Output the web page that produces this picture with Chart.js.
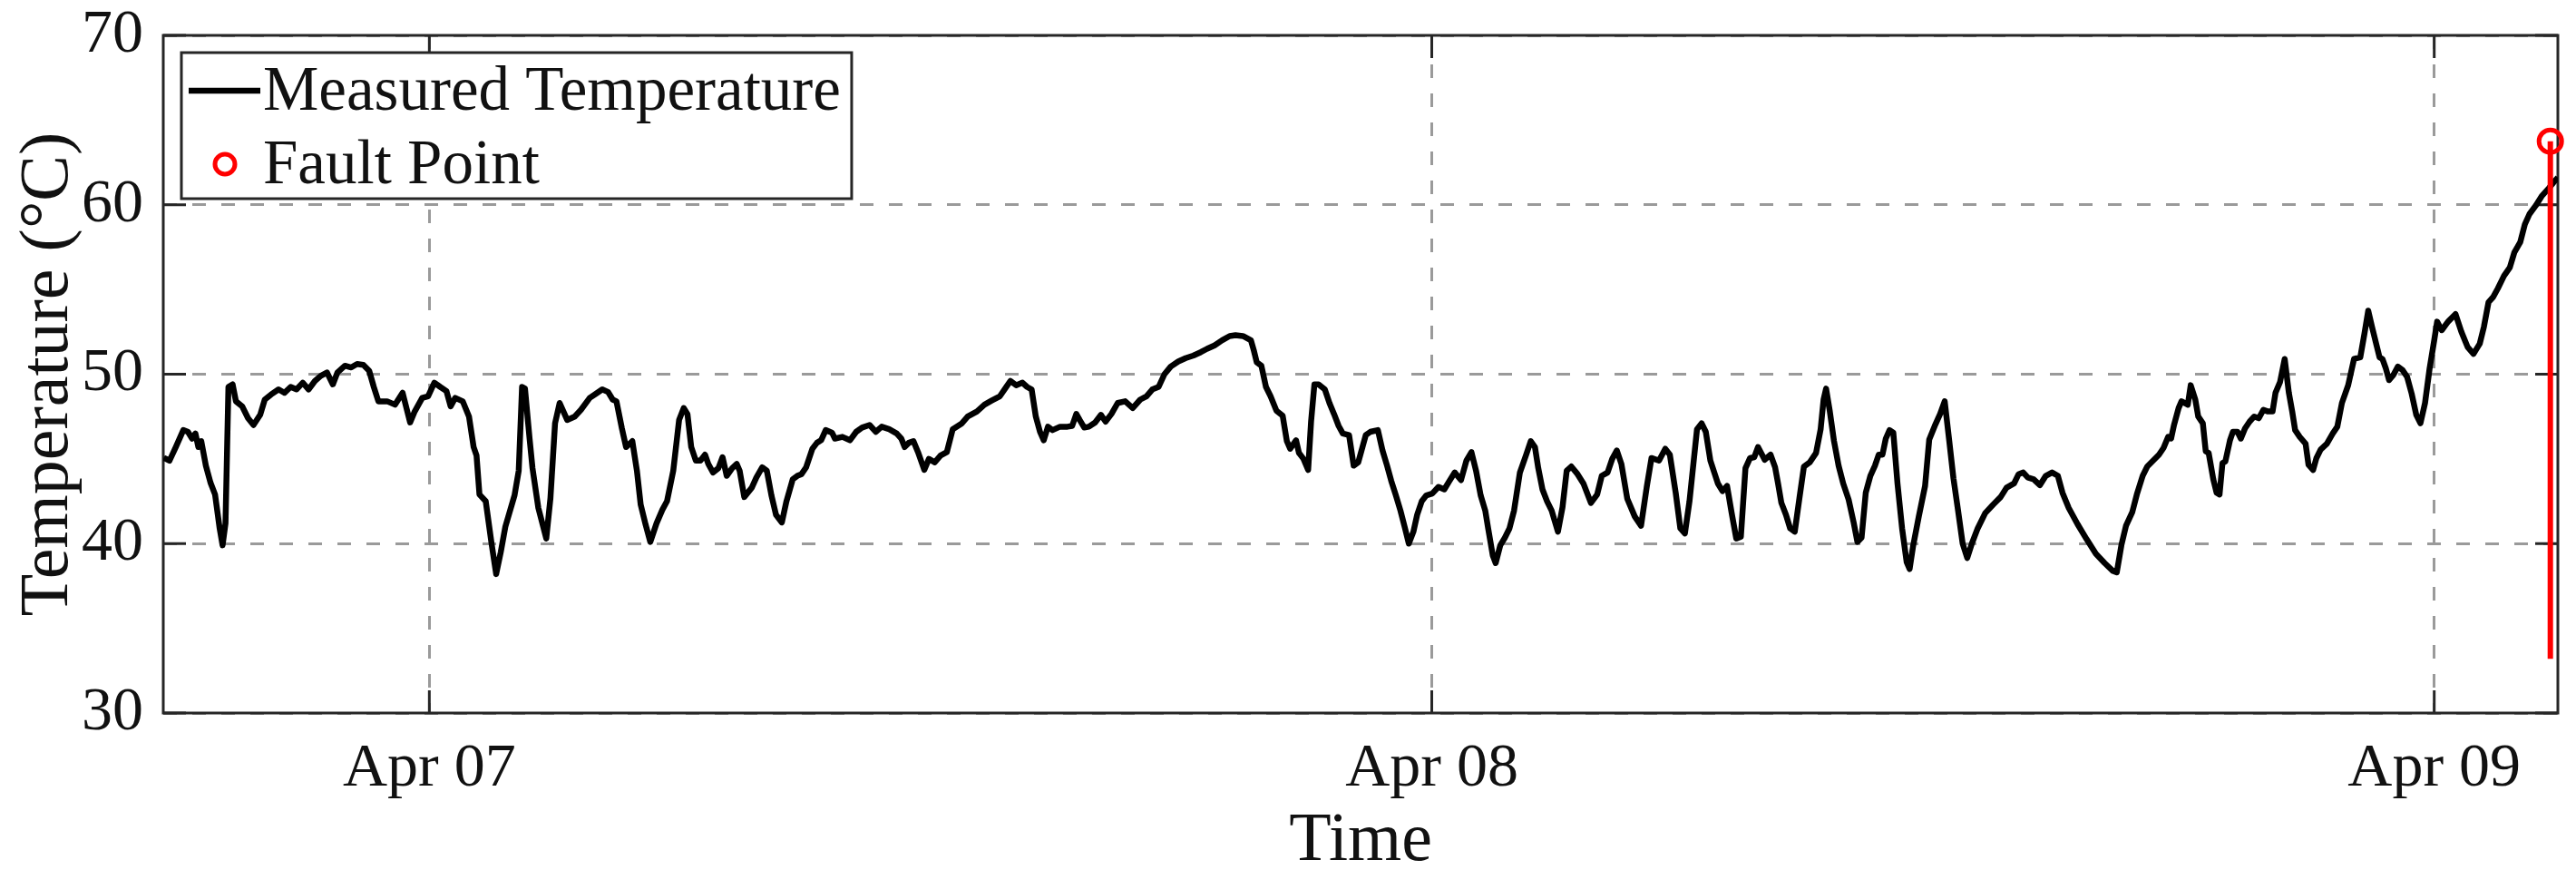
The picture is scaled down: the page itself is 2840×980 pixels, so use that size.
<!DOCTYPE html>
<html>
<head>
<meta charset="utf-8">
<title>Measured Temperature</title>
<script src="https://cdn.jsdelivr.net/npm/chart.js@4.4.1/dist/chart.umd.min.js"></script>
<style>
	body { margin: 0; background: #fff; }
	canvas { display: block; }
</style>
</head>
<body>
<canvas id="temp-chart" width="2840" height="980"></canvas>
<script>
// hours counted from Apr 06 00:00
var hours = [17.64, 17.78, 17.93, 18.11, 18.22, 18.32, 18.40, 18.47, 18.54, 18.65, 18.76, 18.87, 18.98, 19.05, 19.12, 19.19, 19.29, 19.37, 19.52, 19.66,
	19.79, 19.95, 20.06, 20.21, 20.39, 20.53, 20.68, 20.82, 20.97, 21.11, 21.26, 21.40, 21.55, 21.69, 21.80, 21.98, 22.13, 22.27, 22.42, 22.56,
	22.67, 22.78, 22.99, 23.18, 23.36, 23.54, 23.65, 23.83, 23.97, 24.12, 24.26, 24.41, 24.51, 24.62, 24.80, 24.95, 25.06, 25.13, 25.20, 25.35,
	25.49, 25.60, 25.71, 25.82, 26.04, 26.14, 26.22, 26.29, 26.40, 26.47, 26.61, 26.80, 26.90, 27.01, 27.12, 27.30, 27.48, 27.63, 27.84, 27.99,
	28.14, 28.28, 28.39, 28.48, 28.61, 28.71, 28.86, 28.97, 29.06, 29.18, 29.29, 29.44, 29.58, 29.69, 29.84, 29.98, 30.09, 30.18, 30.27, 30.38,
	30.49, 30.60, 30.68, 30.79, 30.92, 31.02, 31.12, 31.25, 31.36, 31.43, 31.54, 31.72, 31.83, 31.97, 32.08, 32.19, 32.30, 32.44, 32.55, 32.70,
	32.81, 32.91, 33.02, 33.17, 33.28, 33.38, 33.49, 33.64, 33.71, 33.89, 34.07, 34.22, 34.36, 34.54, 34.69, 34.83, 35.01, 35.19, 35.30, 35.38,
	35.48, 35.59, 35.70, 35.85, 35.96, 36.10, 36.24, 36.39, 36.53, 36.75, 36.89, 37.11, 37.29, 37.47, 37.66, 37.80, 37.91, 38.05, 38.20, 38.31,
	38.42, 38.52, 38.62, 38.71, 38.81, 38.92, 39.10, 39.28, 39.39, 39.49, 39.57, 39.68, 39.79, 39.94, 40.08, 40.19, 40.33, 40.48, 40.66, 40.84,
	41.02, 41.17, 41.31, 41.46, 41.60, 41.75, 41.93, 42.11, 42.29, 42.47, 42.62, 42.80, 42.98, 43.16, 43.30, 43.48, 43.67, 43.74, 43.81, 43.92,
	44.03, 44.14, 44.28, 44.43, 44.53, 44.61, 44.75, 44.82, 44.93, 45.04, 45.11, 45.19, 45.29, 45.44, 45.55, 45.66, 45.77, 45.87, 46.02, 46.13,
	46.24, 46.42, 46.53, 46.71, 46.82, 46.93, 47.03, 47.14, 47.25, 47.36, 47.45, 47.56, 47.65, 47.76, 47.87, 48.01, 48.16, 48.30, 48.41, 48.55,
	48.70, 48.83, 48.95, 49.06, 49.17, 49.28, 49.35, 49.46, 49.53, 49.64, 49.75, 49.86, 49.97, 50.11, 50.26, 50.37, 50.47, 50.55, 50.65, 50.76,
	50.87, 51.02, 51.13, 51.23, 51.34, 51.49, 51.63, 51.81, 51.96, 52.07, 52.21, 52.32, 52.43, 52.54, 52.68, 52.86, 53.01, 53.15, 53.26, 53.44,
	53.59, 53.70, 53.84, 53.95, 54.06, 54.17, 54.35, 54.46, 54.56, 54.67, 54.85, 54.96, 55.07, 55.18, 55.29, 55.40, 55.51, 55.62, 55.72, 55.81,
	55.97, 56.11, 56.22, 56.29, 56.37, 56.48, 56.58, 56.69, 56.80, 56.91, 57.05, 57.20, 57.31, 57.38, 57.44, 57.53, 57.63, 57.74, 57.85, 57.98,
	58.10, 58.19, 58.29, 58.39, 58.50, 58.61, 58.70, 58.79, 58.87, 58.96, 59.05, 59.15, 59.26, 59.37, 59.44, 59.52, 59.66, 59.81, 59.91, 60.06,
	60.17, 60.28, 60.39, 60.49, 60.60, 60.71, 60.82, 60.93, 61.07, 61.25, 61.44, 61.62, 61.76, 61.94, 62.05, 62.16, 62.27, 62.41, 62.56, 62.70,
	62.85, 62.99, 63.10, 63.25, 63.46, 63.68, 63.90, 64.11, 64.30, 64.40, 64.51, 64.62, 64.77, 64.88, 65.02, 65.13, 65.41, 65.52, 65.63, 65.70,
	65.77, 65.88, 65.95, 66.10, 66.17, 66.28, 66.35, 66.46, 66.53, 66.60, 66.71, 66.79, 66.86, 66.93, 67.00, 67.11, 67.18, 67.29, 67.37, 67.47,
	67.58, 67.69, 67.80, 67.91, 68.02, 68.13, 68.20, 68.31, 68.42, 68.52, 68.60, 68.67, 68.78, 68.92, 68.99, 69.10, 69.18, 69.28, 69.43, 69.57,
	69.68, 69.79, 69.94, 70.08, 70.23, 70.33, 70.42, 70.51, 70.62, 70.69, 70.76, 70.84, 70.92, 71.02, 71.13, 71.24, 71.35, 71.46, 71.57, 71.67,
	71.78, 71.89, 72.00, 72.07, 72.18, 72.33, 72.51, 72.65, 72.80, 72.94, 73.09, 73.19, 73.30, 73.41, 73.52, 73.67, 73.81, 73.92, 74.06, 74.17,
	74.28, 74.43, 74.57, 74.75, 74.90, 74.96];

var temps = [45.07, 44.9, 45.7, 46.7, 46.6, 46.2, 46.5, 45.7, 46.05, 44.6, 43.6, 42.9, 40.9, 39.9, 41.2, 49.25, 49.4, 48.4, 48.1, 47.4,
	47.0, 47.6, 48.5, 48.8, 49.1, 48.9, 49.25, 49.1, 49.5, 49.1, 49.6, 49.9, 50.1, 49.4, 50.1, 50.5, 50.4, 50.6, 50.55, 50.2,
	49.25, 48.4, 48.4, 48.2, 48.9, 47.15, 47.8, 48.6, 48.7, 49.5, 49.25, 49.0, 48.1, 48.6, 48.4, 47.5, 45.7, 45.2, 42.9, 42.5,
	40.0, 38.2, 39.5, 41.0, 42.85, 44.3, 49.25, 49.15, 46.2, 44.45, 42.1, 40.3, 42.7, 47.1, 48.3, 47.3, 47.5, 47.9, 48.6, 48.85,
	49.1, 48.95, 48.5, 48.4, 46.8, 45.7, 46.05, 44.3, 42.3, 41.1, 40.1, 41.2, 42.0, 42.5, 44.3, 47.3, 48.0, 47.65, 45.7, 44.9,
	44.9, 45.25, 44.7, 44.2, 44.45, 45.1, 44.0, 44.45, 44.7, 44.3, 42.75, 43.3, 43.9, 44.5, 44.3, 42.85, 41.7, 41.25, 42.5, 43.8,
	44.0, 44.1, 44.5, 45.6, 45.95, 46.1, 46.7, 46.55, 46.2, 46.3, 46.1, 46.6, 46.85, 47.0, 46.6, 46.9, 46.75, 46.5, 46.2, 45.7,
	45.95, 46.05, 45.4, 44.35, 45.0, 44.8, 45.2, 45.4, 46.75, 47.1, 47.5, 47.8, 48.2, 48.45, 48.7, 49.2, 49.6, 49.35, 49.5, 49.25,
	49.1, 47.5, 46.6, 46.1, 46.9, 46.7, 46.9, 46.9, 46.95, 47.65, 47.3, 46.85, 46.9, 47.15, 47.6, 47.2, 47.65, 48.3, 48.4, 48.0,
	48.5, 48.7, 49.1, 49.25, 50.0, 50.45, 50.75, 50.95, 51.1, 51.3, 51.5, 51.7, 52.0, 52.25, 52.3, 52.25, 52.0, 51.4, 50.7, 50.5,
	49.25, 48.7, 47.85, 47.55, 46.05, 45.6, 46.1, 45.35, 45.0, 44.35, 47.2, 49.4, 49.4, 49.1, 48.3, 47.65, 46.95, 46.5, 46.4, 44.6,
	44.8, 46.4, 46.6, 46.7, 45.5, 44.6, 43.7, 42.85, 41.95, 40.9, 40.0, 40.7, 41.7, 42.5, 42.85, 42.95, 43.35, 43.2, 43.65, 44.2,
	43.75, 44.9, 45.4, 44.3, 42.85, 41.95, 40.9, 39.3, 38.85, 39.9, 40.35, 40.9, 41.95, 44.2, 45.25, 46.05, 45.7, 44.45, 43.2, 42.5,
	41.95, 40.7, 42.15, 44.3, 44.55, 44.1, 43.55, 42.4, 42.9, 44.0, 44.2, 45.0, 45.5, 44.7, 42.65, 41.6, 41.05, 43.4, 45.05, 44.9,
	45.6, 45.25, 43.0, 40.9, 40.6, 42.5, 46.75, 47.1, 46.6, 44.9, 43.55, 43.1, 43.4, 41.8, 40.3, 40.4, 44.45, 45.05, 45.1, 45.7,
	44.95, 45.25, 44.5, 43.55, 42.4, 41.7, 40.9, 40.7, 42.65, 44.55, 44.8, 45.35, 46.75, 48.5, 49.15, 47.8, 46.05, 44.6, 43.55, 42.6,
	41.25, 40.1, 40.35, 43.0, 44.0, 44.6, 45.25, 45.25, 46.2, 46.7, 46.55, 43.55, 40.9, 38.9, 38.5, 39.8, 41.6, 43.4, 46.15, 47.05,
	47.65, 48.4, 46.05, 43.85, 41.95, 40.0, 39.15, 40.0, 40.9, 41.8, 42.3, 42.75, 43.3, 43.55, 44.1, 44.2, 43.9, 43.8, 43.45, 44.0,
	44.2, 44.0, 43.0, 42.1, 41.15, 40.25, 39.4, 38.85, 38.4, 38.3, 39.9, 41.05, 41.85, 42.9, 44.0, 44.55, 45.25, 45.65, 46.3, 46.2,
	47.0, 48.0, 48.4, 48.2, 49.35, 48.5, 47.5, 47.1, 45.45, 45.35, 43.8, 43.0, 42.9, 44.75, 44.85, 46.1, 46.6, 46.6, 46.2, 46.8,
	47.2, 47.5, 47.4, 47.9, 47.8, 47.8, 48.9, 49.55, 50.9, 48.9, 47.8, 46.7, 46.3, 45.9, 44.65, 44.35, 45.05, 45.55, 45.9, 46.5,
	46.9, 48.3, 49.35, 50.9, 51.0, 52.4, 53.75, 52.8, 51.7, 51.0, 50.9, 50.35, 49.65, 49.95, 50.45, 50.25, 49.85, 48.85, 47.6, 47.1,
	48.3, 50.35, 52.0, 53.1, 52.6, 53.1, 53.55, 52.5, 51.6, 51.2, 51.8, 52.8, 54.25, 54.55, 55.05, 55.8, 56.3, 57.2, 57.8, 58.85,
	59.45, 59.95, 60.5, 61.0, 61.45, 61.6];

var faultHours = [74.78];
var faultTemps = [63.75];
var stemTemps = [33.2, 63.75];

var dayTicks = [24, 48, 72];
var dayLabels = ["Apr 07", "Apr 08", "Apr 09"];
var tempTicks = [30, 40, 50, 60, 70];
var seriesNames = ["Measured Temperature", "Fault Point"];

var serif = '"Liberation Serif", "Times New Roman", serif';
var axisColor = "#262626";

var puntos = function (xs, ys) {
	var out = [];
	for (var i = 0; i < ys.length; i++) {
		out.push({x: xs[i], y: ys[i]});
	}
	return out;
};

// frame with inward ticks, like the MATLAB axes box
var marco = {
	id: "marco",
	beforeDatasetsDraw: function (chart) {
		var ctx = chart.ctx;
		var a = chart.chartArea;
		var xs = chart.scales.x, ys = chart.scales.y;
		var len = 25;
		ctx.save();
		ctx.strokeStyle = axisColor;
		ctx.lineWidth = 3;
		ctx.beginPath();
		tempTicks.forEach(function (t) {
			var py = ys.getPixelForValue(t);
			ctx.moveTo(a.left, py); ctx.lineTo(a.left + len, py);
			ctx.moveTo(a.right, py); ctx.lineTo(a.right - len, py);
		});
		dayTicks.forEach(function (d) {
			var px = xs.getPixelForValue(d);
			ctx.moveTo(px, a.bottom); ctx.lineTo(px, a.bottom - len);
			ctx.moveTo(px, a.top); ctx.lineTo(px, a.top + len);
		});
		ctx.stroke();
		ctx.strokeRect(a.left, a.top, a.right - a.left, a.bottom - a.top);
		ctx.restore();
	}
};

var leyenda = {
	id: "leyenda",
	afterDraw: function (chart) {
		var ctx = chart.ctx;
		var a = chart.chartArea;
		var x = a.left + 20, y = a.top + 19;
		var textX = x + 90;
		ctx.save();
		ctx.font = "69px " + serif;
		var items = chart.data.datasets.filter(function (ds) { return seriesNames.indexOf(ds.label) >= 0; });
		var w = 0;
		items.forEach(function (ds) { w = Math.max(w, ctx.measureText(ds.label).width); });
		var boxW = textX - x + w + 12, boxH = 161;
		ctx.fillStyle = "#fff";
		ctx.fillRect(x, y, boxW, boxH);
		ctx.lineWidth = 3;
		ctx.strokeStyle = axisColor;
		ctx.strokeRect(x, y, boxW, boxH);
		items.forEach(function (ds, i) {
			var cy = y + 42 + i * 81;
			if (ds.showLine === false) {
				ctx.beginPath();
				ctx.lineWidth = ds.pointBorderWidth;
				ctx.strokeStyle = ds.pointBorderColor;
				ctx.arc(x + 48, cy, 11, 0, Math.PI * 2);
				ctx.stroke();
			} else {
				ctx.beginPath();
				ctx.lineWidth = ds.borderWidth;
				ctx.strokeStyle = ds.borderColor;
				ctx.moveTo(x + 8, cy);
				ctx.lineTo(x + 87, cy);
				ctx.stroke();
			}
			ctx.fillStyle = "#111";
			ctx.textBaseline = "middle";
			ctx.fillText(ds.label, textX, cy + 3);
		});
		ctx.restore();
	}
};

function makeChart() {
	Chart.defaults.font.family = serif;
	Chart.defaults.color = "#111";

	var ctx = document.getElementById("temp-chart").getContext("2d");
	var chart = new Chart(ctx, {
		type: "line",
		data: {
			datasets: [{
				label: seriesNames[0],
				data: puntos(hours, temps),
				borderColor: "#000",
				borderWidth: 6.5,
				borderJoinStyle: "round",
				pointRadius: 0,
				tension: 0,
				order: 3
			}, {
				label: seriesNames[1],
				data: puntos(faultHours, faultTemps),
				showLine: false,
				pointRadius: 12.5,
				pointBorderWidth: 5,
				pointBorderColor: "#ff0000",
				pointBackgroundColor: "rgba(0,0,0,0)",
				clip: false,
				order: 1
			}, {
				label: "stem",
				data: puntos([faultHours[0], faultHours[0]], stemTemps),
				borderColor: "#ff0000",
				borderWidth: 6,
				pointRadius: 0,
				order: 2
			}]
		},
		options: {
			responsive: false,
			devicePixelRatio: 1,
			animation: false,
			events: [],
			layout: {padding: {top: 39, right: 20, left: 0, bottom: 0}},
			plugins: {
				legend: {display: false},
				tooltip: {enabled: false}
			},
			scales: {
				x: {
					type: "linear",
					min: 17.63,
					max: 74.96,
					afterBuildTicks: function (scale) {
						scale.ticks = dayTicks.map(function (v) { return {value: v}; });
					},
					afterFit: function (scale) {
						scale.height = 194;
						scale.paddingLeft = 0;
						scale.paddingRight = 0;
					},
					ticks: {
						autoSkip: false,
						maxRotation: 0,
						padding: 21,
						font: {size: 68},
						callback: function (v) { return dayLabels[dayTicks.indexOf(v)]; }
					},
					grid: {color: "#9a9a9a", lineWidth: 3, drawTicks: false},
					border: {display: false, dash: [15, 17]},
					title: {display: true, text: "Time", font: {size: 76}, padding: {top: 0, bottom: 6}}
				},
				y: {
					type: "linear",
					min: 30,
					max: 70,
					afterBuildTicks: function (scale) {
						scale.ticks = tempTicks.map(function (v) { return {value: v}; });
					},
					afterFit: function (scale) {
						scale.width = 180;
						scale.paddingTop = 0;
						scale.paddingBottom = 0;
					},
					ticks: {padding: 22, font: {size: 68}},
					grid: {color: "#9a9a9a", lineWidth: 3, drawTicks: false},
					border: {display: false, dash: [15, 17]},
					title: {display: true, text: "Temperature (°C)", font: {size: 76}, padding: {top: 8, bottom: 0}}
				}
			}
		},
		plugins: [marco, leyenda]
	});
	return chart;
}

makeChart();
</script>
</body>
</html>
